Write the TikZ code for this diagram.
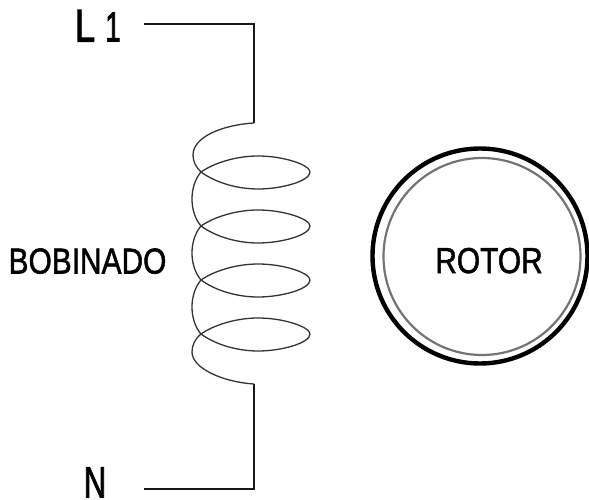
\documentclass[tikz,border=0pt]{standalone}
\usepackage{fontspec}
\setmainfont{Liberation Sans}
\newfontfamily\labfont{Liberation Sans}[FakeBold=1.6]
\newfontfamily\biglabfont{Liberation Sans}[FakeBold=2.2]
\tikzset{
  wire/.style={line width=2pt,black!90},
  coil/.style={line width=1.3pt,black!80},
  lab/.style={inner sep=0pt,anchor=base,font=\labfont\fontsize{36}{36}\selectfont,xscale=.83,black},
}
\begin{document}
\begin{tikzpicture}[x=1pt,y=-1pt]
\useasboundingbox (0,0) rectangle (589,500);
\coordinate (l1end) at (144,24);
\coordinate (corner1) at (254,24);
\coordinate (top) at (254,123);
\coordinate (nend) at (144,489);
\coordinate (corner2) at (254,489);
\coordinate (bot) at (254,384);
\draw[wire] (l1end) -- (corner1) -- (top);
\draw[wire] (nend) -- (corner2) -- (bot);
\draw[coil] (top) .. controls (222,125) and (193,137) .. (193,155)
  .. controls (193,162) and (196,167) .. (201,172);
\foreach \y/\n in {172/a,226/b,280/c,334/d}{
  \draw[coil] (201,\y) .. controls (216,\y+11) and (238,\y+17) .. (258,\y+17)
     .. controls (282,\y+17) and (310,\y+9) .. (310,\y)
     .. controls (310,\y-7) and (284,\y-16) .. (258,\y-16)
     .. controls (236,\y-16) and (214,\y-9) .. (201,\y);
}
\foreach \y in {172,226,280}{
  \draw[coil] (201,\y) .. controls (195,\y+7) and (192,\y+17) .. (192,\y+27)
     .. controls (192,\y+37) and (195,\y+47) .. (201,\y+54);
}
\draw[coil] (201,334) .. controls (195,339) and (192,345) .. (192,352)
  .. controls (192,368) and (222,382) .. (bot);
\node[circle,draw=black,line width=4.4pt,minimum size=215pt,inner sep=0pt] (outer) at (480,256) {};
\node[circle,draw=black!55,line width=2.2pt,minimum size=197pt,inner sep=0pt] (inner) at (482,256.5) {};
\node[lab] (rotor) at (489,273) {ROTOR};
\node[lab] (bob) at (87.5,273.5) {BOBINADO};
\node[lab,font=\biglabfont\fontsize{46}{46}\selectfont,xscale=.95] (l) at (85,41.5) {L};
\node[lab,font=\biglabfont\fontsize{42}{42}\selectfont,xscale=.8] (one) at (113,41.5) {1};
\node[lab,font=\biglabfont\fontsize{44}{44}\selectfont,xscale=.85] (n) at (95,497.5) {N};
\end{tikzpicture}
\end{document}
